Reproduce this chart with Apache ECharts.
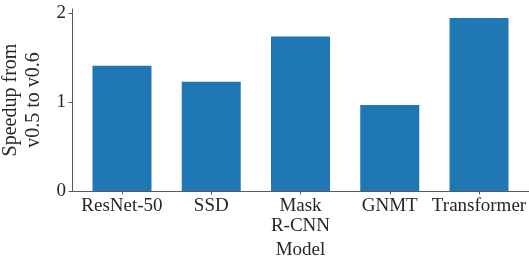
<!DOCTYPE html>
<html>
<head>
<meta charset="utf-8">
<script src="https://cdn.jsdelivr.net/npm/echarts@6/dist/echarts.min.js"></script>
<style>html,body{margin:0;padding:0;background:#fff;}#c{width:529px;height:256px;}</style>
</head>
<body>
<div id="c"></div>
<script>
const categories = ["ResNet-50", "SSD", "Mask\nR-CNN", "GNMT", "Transformer"];
const speedups = [1.41, 1.23, 1.74, 0.97, 1.95];
const yTicks = [0, 1, 2];
const xTicks = [0, 1, 2, 3, 4];

const chart = echarts.init(document.getElementById('c'), null, {renderer: 'canvas'});
const font = "Liberation Serif";
const textColor = '#262626';
const axisColor = '#595959';
chart.setOption({
  animation: false,
  grid: {left: 72, right: 0, top: 9, bottom: 65, containLabel: false, outerBoundsMode: 'none'},
  xAxis: {
    type: 'value', min: -0.56, max: 4.56,
    name: 'Model', nameLocation: 'middle', nameGap: 41,
    nameTextStyle: {fontFamily: font, fontSize: 19, color: textColor},
    axisLine: {show: true, onZero: false, lineStyle: {color: axisColor, width: 1}},
    axisTick: {show: true, customValues: xTicks, length: 3.5, lineStyle: {color: axisColor}},
    axisLabel: {customValues: xTicks, margin: 5, fontFamily: font, fontSize: 19, color: textColor, lineHeight: 20,
      formatter: v => categories[Math.round(v)]},
    splitLine: {show: false}
  },
  yAxis: {
    type: 'value', min: 0, max: 2.05,
    name: 'Speedup from\nv0.5 to v0.6', nameLocation: 'middle', nameGap: 27,
    nameTextStyle: {fontFamily: font, fontSize: 20, color: textColor, lineHeight: 23},
    axisLine: {show: true, onZero: false, lineStyle: {color: axisColor, width: 1}},
    axisTick: {show: true, customValues: yTicks, length: 3.5, lineStyle: {color: axisColor}},
    axisLabel: {customValues: yTicks, margin: 6, fontFamily: font, fontSize: 19, color: textColor},
    splitLine: {show: false}
  },
  series: [{
    type: 'bar',
    data: speedups.map((v, i) => [i, v]),
    barWidth: 59,
    itemStyle: {color: '#1f77b4'}
  }]
});
</script>
</body>
</html>
